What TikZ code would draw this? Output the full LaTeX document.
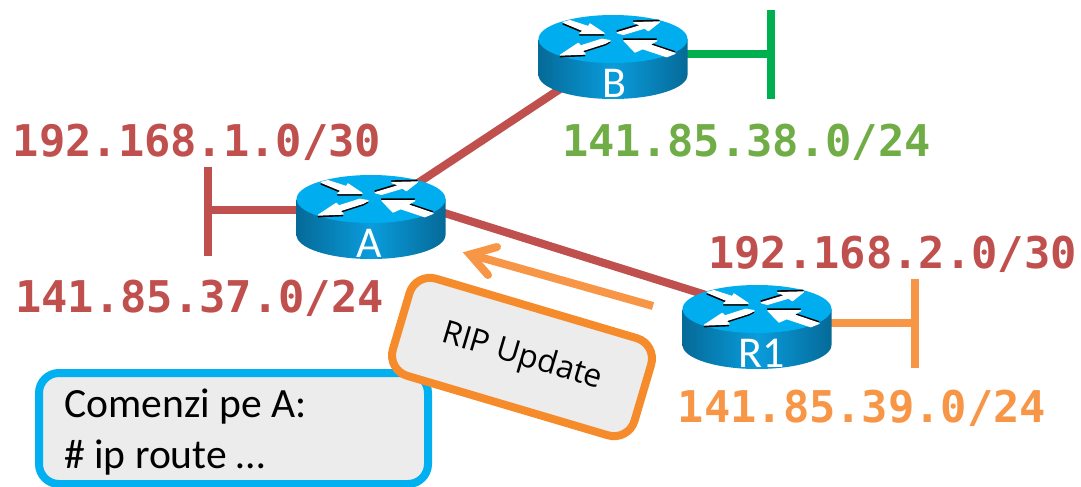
\documentclass[tikz,border=0pt]{standalone}
\usepackage{fontspec}
\setmainfont{Carlito}
\newfontfamily\monob{DejaVu Sans Mono}[Scale=1.0,BoldFont={DejaVu Sans Mono Bold}]
\newfontfamily\ripfont{Open Sans}
\definecolor{redl}{HTML}{C0504D}
\definecolor{orl}{HTML}{F79646}
\definecolor{orb}{HTML}{F68B2C}
\definecolor{grl}{HTML}{00B050}
\definecolor{grt}{HTML}{70AD47}
\definecolor{blb}{HTML}{00B0F0}
\definecolor{boxg}{HTML}{ECECEC}
\definecolor{rtop}{HTML}{00AEEF}
\definecolor{rdark}{HTML}{056A98}
\definecolor{rmid}{HTML}{0A9CDC}
\tikzset{
  x=0.75pt,y=-0.75pt,
  wire/.style={line width=6pt},
  netlabel/.style={font=\monob\bfseries\fontsize{32.8pt}{36pt}\selectfont,inner sep=0pt,anchor=base},
  rlabel/.style={font=\fontsize{33pt}{36pt}\selectfont,text=white,inner sep=0pt,anchor=base},
  wshadow/.style={line width=6pt,draw=black,opacity=.10},
  rarrow/.style={fill=white,draw=white,line width=1pt,line join=round},
  rarrowsh/.style={fill=black,draw=black,line width=1pt,line join=round},
  cmdtext/.style={anchor=base west,inner sep=0pt,font=\fontsize{31.2pt}{36pt}\selectfont},
}
\newcommand{\rtarrows}{%
  \filldraw[rarrowsh,shift={(-1,5)}] (130,67)--(150,62)--(205,80)--(210,72)--(252,100)--(180,100)--(190,92)--cycle;
  \filldraw[rarrowsh,shift={(-1,-5)}] (292,98)--(365,76)--(342,68)--(418,66)--(385,92)--(374,84)--(310,103)--cycle;
  \filldraw[rarrowsh,shift={(-1,5)}] (270,122)--(245,118)--(182,138)--(175,130)--(122,165)--(195,162)--(186,152)--(255,130)--cycle;
  \filldraw[rarrowsh,shift={(-1,-5)}] (465,160)--(440,170)--(368,146)--(345,156)--(312,122)--(410,122)--(388,134)--cycle;
  \filldraw[rarrow] (130,67)--(150,62)--(205,80)--(210,72)--(252,100)--(180,100)--(190,92)--cycle;
  \filldraw[rarrow] (292,98)--(365,76)--(342,68)--(418,66)--(385,92)--(374,84)--(310,103)--cycle;
  \filldraw[rarrow] (270,122)--(245,118)--(182,138)--(175,130)--(122,165)--(195,162)--(186,152)--(255,130)--cycle;
  \filldraw[rarrow] (465,160)--(440,170)--(368,146)--(345,156)--(312,122)--(410,122)--(388,134)--cycle;
}
\newcommand{\router}[5]{% name, cx, top-ellipse cy, label, label x
  \begin{scope}[shift={(#2,#3)}]
    \shade[left color=rdark,right color=rdark,middle color=rmid]
      (-74.5,0) -- (-74.5,36)
      .. controls (-74.5,49.25) and (-41.1,60) .. (0,60)
      .. controls (41.1,60) and (74.5,49.25) .. (74.5,36)
      -- (74.5,0) -- cycle;
    \fill[rtop] (0,0) ellipse [x radius=74.5,y radius=24];
  \end{scope}
  \begin{scope}[shift={(#2-93,#3-39)},x=.25pt,y=-.25pt]
    \rtarrows
  \end{scope}
  \node[rlabel] (#1) at (#5,#3+58) {#4};
}
\begin{document}
\begin{tikzpicture}
\useasboundingbox (0,0) rectangle (1081,486);
% connector ends
\coordinate (ab1) at (371,214);
\coordinate (ab2) at (613,54);
\coordinate (ar1) at (371,190);
\coordinate (ar2) at (757,311);
\coordinate (as1) at (371,210);
\coordinate (as2) at (208,210);
\coordinate (at1) at (208,167);
\coordinate (at2) at (208,256);
\coordinate (bs1) at (613,54);
\coordinate (bs2) at (771,54);
\coordinate (bt1) at (771,10);
\coordinate (bt2) at (771,99);
\coordinate (rs1) at (757,323);
\coordinate (rs2) at (915,323);
\coordinate (rt1) at (915,279);
\coordinate (rt2) at (915,368);
\coordinate (u1) at (653,306);
\coordinate (u2) at (474,255.5);
\coordinate (uh) at (470,254.5);
\coordinate (uh1) at (497,247);
\coordinate (uh2) at (488,275);
% shadows
\begin{scope}[shift={(0,4)}]
\draw[wshadow] (ab1)--(ab2);
\draw[wshadow] (ar1)--(ar2);
\draw[wshadow] (as1)--(as2);
\draw[wshadow] (bs1)--(bs2);
\draw[wshadow] (rs1)--(rs2);
\end{scope}
% links
\draw[wire,redl] (ab1)--(ab2);
\draw[wire,redl] (ar1)--(ar2);
\draw[wire,redl] (as1)--(as2);
\draw[wire,redl] (at1)--(at2);
\draw[wire,grl] (bs1)--(bs2);
\draw[wire,grl] (bt1)--(bt2);
\draw[wire,orl] (rs1)--(rs2);
\draw[wire,orl] (rt1)--(rt2);
% routers
\router{A}{371}{199}{A}{369}
\router{B}{613}{39}{B}{614}
\router{R}{757}{309}{R1}{762}
% labels
\node[netlabel,text=redl] (n1) at (197,156) {192.168.1.0/30};
\node[netlabel,text=grt] (n2) at (746.5,156) {141.85.38.0/24};
\node[netlabel,text=redl] (n3) at (199.5,312) {141.85.37.0/24};
\node[netlabel,text=redl] (n4) at (892.5,268) {192.168.2.0/30};
\node[netlabel,text=orl] (n5) at (862,422) {141.85.39.0/24};
% update arrow
\draw[wire,orl] (u1)--(u2);
\draw[wire,orl,line cap=round,miter limit=10] (uh1)--(uh)--(uh2);
% command box
\path[draw=blb,fill=boxg,line width=6pt,rounded corners=15pt] (39,373) rectangle (428,484);
\node[cmdtext] (c1) at (64,417) {Comenzi pe A:};
\node[cmdtext] (c2) at (64,468) {\# ip route …};
% RIP box
\node[draw=orb,fill=boxg,line width=6pt,rounded corners=16pt,rotate=-16.5,minimum width=189pt,minimum height=76pt,inner sep=0pt,font=\ripfont\fontsize{24pt}{28pt}\selectfont] (rip) at (522,357) {RIP Update};
\end{tikzpicture}
\end{document}
